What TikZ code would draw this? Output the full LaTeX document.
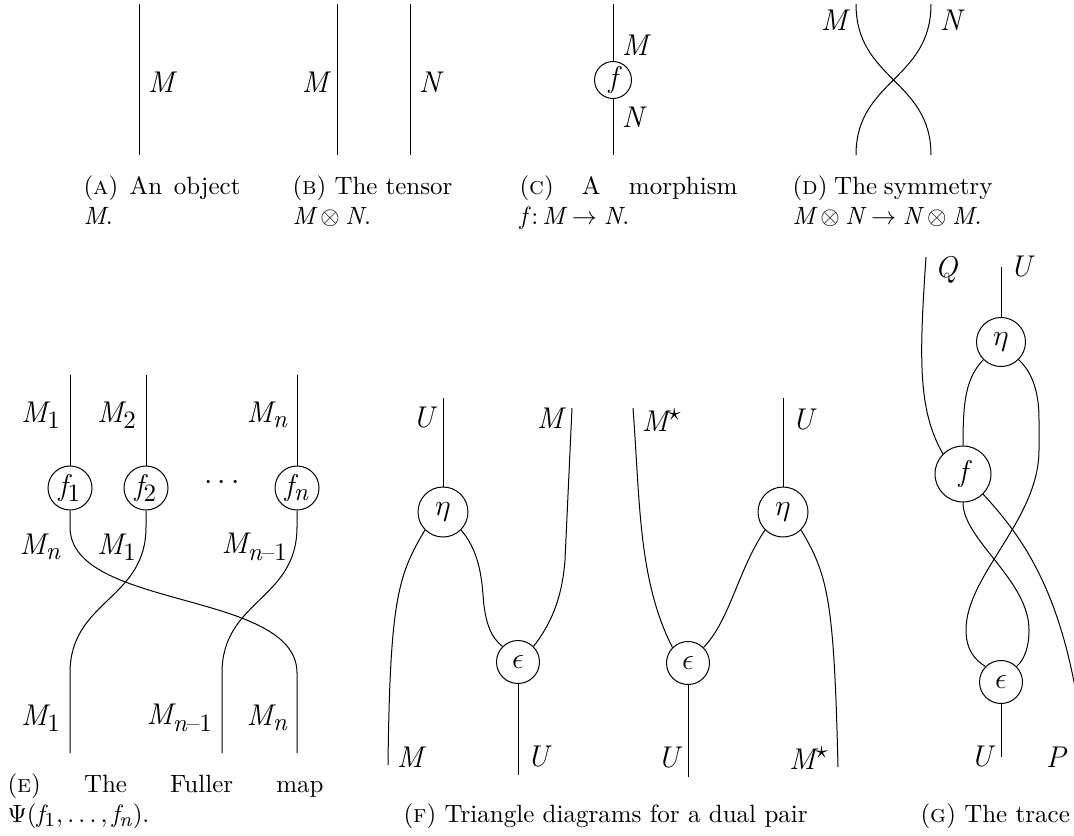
\documentclass[tikz,border=0pt]{standalone}
\IfFileExists{tgschola.sty}{\usepackage[T1]{fontenc}\usepackage{tgschola}}{}
\IfFileExists{mathastext.sty}{\usepackage[italic]{mathastext}}{}
\newdimen\unitpx
\unitpx=0.4pt

\begin{document}
\begin{tikzpicture}[x=\unitpx,y=-\unitpx,
    bead/.style={draw,circle,inner sep=0pt,font=\large},
    lab/.style={font=\large},
    subcap/.style={anchor=north west,inner sep=0pt,align=justify}]
\useasboundingbox (0,0) rectangle (1074,835);

% (a) an object
\coordinate (a-top) at (139,4);
\coordinate (a-bot) at (139,155);
\draw (a-top) -- (a-bot);
\node[lab,right] (a-M) at (139,82) {$M$};
\node[subcap,text width=157\unitpx] (a-cap) at (83,175) {(\textsc{a}) An object\linebreak $M$.};

% (b) the tensor
\coordinate (b-Mt) at (337,4);
\coordinate (b-Mb) at (337,155);
\coordinate (b-Nt) at (410,4);
\coordinate (b-Nb) at (410,155);
\draw (b-Mt) -- (b-Mb);
\draw (b-Nt) -- (b-Nb);
\node[lab,left] (b-M) at (337,82) {$M$};
\node[lab,right] (b-N) at (410,82) {$N$};
\node[subcap,text width=160\unitpx] (b-cap) at (292,175) {(\textsc{b}) The tensor\\ $M\otimes N$.};

% (c) a morphism
\coordinate (c-top) at (613,4);
\coordinate (c-bot) at (613,155);
\node[bead,minimum size=37\unitpx] (c-f) at (613,80) {$f$};
\draw (c-top) -- (c-f) -- (c-bot);
\node[lab,right] (c-M) at (613,45) {$M$};
\node[lab,right] (c-N) at (613,117) {$N$};
\node[subcap,text width=218\unitpx] (c-cap) at (519,175) {(\textsc{c}) A morphism\linebreak $f\,{:}\,M\to N$.};

% (d) the symmetry
\coordinate (d-tl) at (856,4);
\coordinate (d-tr) at (931,4);
\coordinate (d-bl) at (856,155);
\coordinate (d-br) at (931,155);
\draw (d-tl) .. controls (856,80) and (931,80) .. (d-br);
\draw (d-tr) .. controls (931,80) and (856,80) .. (d-bl);
\node[lab,left] (d-M) at (856,20) {$M$};
\node[lab,right] (d-N) at (931,20) {$N$};
\node[subcap,text width=200\unitpx] (d-cap) at (792,175) {(\textsc{d}) The symmetry\\ $M\otimes N\to N\otimes M$.};

% (e) the Fuller map
\coordinate (e-t1) at (70,375);
\coordinate (e-t2) at (146,375);
\coordinate (e-tn) at (297,375);
\node[bead,minimum size=44\unitpx] (e-f1) at (70,488) {$f_1$};
\node[bead,minimum size=44\unitpx] (e-f2) at (146,488) {$f_2$};
\node[bead,minimum size=44\unitpx] (e-fn) at (297,488) {$f_n$};
\node[lab] (e-dots) at (222,483) {$\cdots$};
\coordinate (e-b1) at (70,753);
\coordinate (e-bm) at (222,753);
\coordinate (e-bn) at (297,753);
\draw (e-t1) -- (e-f1);
\draw (e-t2) -- (e-f2);
\draw (e-tn) -- (e-fn);
\draw (e-f1) -- (70,527) .. controls (70,610) and (297,590) .. (297,673) -- (e-bn);
\draw (e-f2) -- (146,527) .. controls (146,600) and (70,600) .. (70,673) -- (e-b1);
\draw (e-fn) -- (297,527) .. controls (297,600) and (222,600) .. (222,673) -- (e-bm);
\node[lab,left] (e-M1t) at (70,415) {$M_1$};
\node[lab,left] (e-M2t) at (146,415) {$M_2$};
\node[lab,left] (e-Mnt) at (297,415) {$M_n$};
\node[lab,left] (e-Mnm) at (70,547) {$M_n$};
\node[lab,left] (e-M1m) at (146,547) {$M_1$};
\node[lab,left] (e-Mmm) at (297,547) {$M_{n-1}$};
\node[lab,left] (e-M1b) at (70,718) {$M_1$};
\node[lab,left] (e-Mmb) at (222,718) {$M_{n-1}$};
\node[lab,left] (e-Mnb) at (297,718) {$M_n$};
\node[subcap,text width=316\unitpx] (e-cap) at (7,773) {(\textsc{e}) The Fuller map\linebreak $\Psi(f_1,\dots,f_n)$.};

% (f) triangle diagrams, first
\coordinate (f-U1) at (443,398);
\node[bead,minimum size=50\unitpx] (f-eta1) at (443,512) {$\eta$};
\node[bead,minimum size=43\unitpx] (f-eps1) at (518,662) {$\epsilon$};
\coordinate (f-M1b) at (388,765);
\coordinate (f-M1t) at (572,408);
\coordinate (f-U1b) at (518,775);
\draw (f-U1) -- (f-eta1);
\draw (f-eta1.-135) .. controls (398,575) and (390,600) .. (f-M1b);
\draw (f-eta1.-45) .. controls (474,545) and (481,565) .. (483,595) .. controls (485,625) and (492,638) .. (f-eps1.135);
\draw (f-eps1.45) .. controls (550,625) and (562,600) .. (565,560) -- (f-M1t);
\draw (f-eps1) -- (f-U1b);
\node[lab,left] (f-U1l) at (443,418) {$U$};
\node[lab,left] (f-M1tl) at (572,418) {$M$};
\node[lab,right] (f-M1bl) at (388,757) {$M$};
\node[lab,right] (f-U1bl) at (518,757) {$U$};

% (f) triangle diagrams, second
\coordinate (f-U2) at (783,398);
\node[bead,minimum size=50\unitpx] (f-eta2) at (783,512) {$\eta$};
\node[bead,minimum size=43\unitpx] (f-eps2) at (688,663) {$\epsilon$};
\coordinate (f-S2t) at (633,408);
\coordinate (f-S2b) at (838,767);
\coordinate (f-U2b) at (688,777);
\draw (f-U2) -- (f-eta2);
\draw (f-S2t) .. controls (640,500) and (638,580) .. (f-eps2.135);
\draw (f-eps2.45) .. controls (730,620) and (738,570) .. (f-eta2.-135);
\draw (f-eta2.-45) .. controls (828,575) and (834,600) .. (f-S2b);
\draw (f-eps2) -- (f-U2b);
\node[lab,right] (f-S2tl) at (633,420) {$M^\star$};
\node[lab,right] (f-U2l) at (783,420) {$U$};
\node[lab,left] (f-U2bl) at (688,758) {$U$};
\node[lab,left] (f-S2bl) at (838,758) {$M^\star$};
\node[subcap] (f-cap) at (403,803) {(\textsc{f}) Triangle diagrams for a dual pair};

% (g) the trace
\coordinate (g-Qt) at (926,257);
\coordinate (g-Ut) at (1001,267);
\node[bead,minimum size=49\unitpx] (g-eta) at (1001,342) {$\eta$};
\node[bead,minimum size=56\unitpx] (g-f) at (963,474) {$f$};
\node[bead,minimum size=43\unitpx] (g-eps) at (1001,682) {$\epsilon$};
\coordinate (g-Ub) at (1001,757);
\coordinate (g-Pb) at (1085,760);
\draw (g-Ut) -- (g-eta);
\draw (g-Qt) .. controls (919,360) and (918,410) .. (g-f.135);
\draw (g-eta.-135) .. controls (966,378) and (963,400) .. (g-f);
\draw (g-eta.-45) .. controls (1034,374) and (1039,395) .. (1039,420) -- (1039,450) .. controls (1039,520) and (966,575) .. (966,630) .. controls (966,650) and (975,660) .. (g-eps.135);
\draw (g-f) .. controls (963,540) and (1029,580) .. (1029,630) .. controls (1029,648) and (1024,660) .. (g-eps.45);
\draw (g-f.-45) .. controls (1025,540) and (1070,600) .. (g-Pb);
\draw (g-eps) -- (g-Ub);
\node[lab,right] (g-Q) at (926,270) {$Q$};
\node[lab,right] (g-U) at (1001,267) {$U$};
\node[lab,left] (g-Ul) at (1001,757) {$U$};
\node[lab,right] (g-P) at (1037,757) {$P$};
\node[subcap] (g-cap) at (920,803) {(\textsc{g}) The trace};
\end{tikzpicture}
\end{document}
